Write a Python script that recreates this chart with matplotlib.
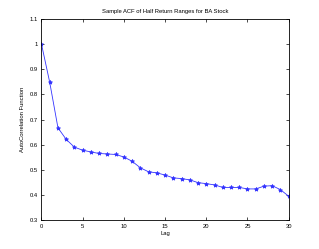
import matplotlib
matplotlib.use("Agg")
import matplotlib.pyplot as plt

lags = list(range(31))
acf = [1.0, 0.848, 0.667, 0.621, 0.590, 0.578, 0.571, 0.565, 0.563, 0.561,
       0.551, 0.534, 0.508, 0.492, 0.488, 0.479, 0.468, 0.465, 0.460, 0.449,
       0.445, 0.440, 0.430, 0.430, 0.430, 0.424, 0.424, 0.435, 0.437, 0.421,
       0.395]
xticks = [0, 5, 10, 15, 20, 25, 30]
yticks = [0.3, 0.4, 0.5, 0.6, 0.7, 0.8, 0.9, 1.0, 1.1]
ytick_labels = ["0.3", "0.4", "0.5", "0.6", "0.7", "0.8", "0.9", "1", "1.1"]

plt.rcParams['font.family'] = ['Liberation Sans', 'DejaVu Sans']
fig = plt.figure(figsize=(3.19, 2.49), dpi=100)
ax = fig.add_axes([0.13, 0.116, 0.775, 0.808])
ax.plot(lags, acf, color='#3333ff', linewidth=0.6, marker='*', markersize=3,
        markeredgewidth=0.6)
ax.set_xlim(0, 30)
ax.set_ylim(0.3, 1.1)
ax.set_xticks(xticks)
ax.set_yticks(yticks)
ax.set_yticklabels(ytick_labels)
ax.tick_params(direction='in', top=True, right=True, length=2.5, width=0.5,
               labelsize=4.2, pad=2.5)
for s in ax.spines.values():
    s.set_linewidth(0.6)
ax.set_title("Sample ACF of Half Return Ranges for BA Stock", fontsize=4.2, pad=4)
ax.set_xlabel("Lag", fontsize=4.2, labelpad=2)
ax.set_ylabel("AutoCorrelation Function", fontsize=4.2, labelpad=3)
fig.savefig("out.png", dpi=100)
